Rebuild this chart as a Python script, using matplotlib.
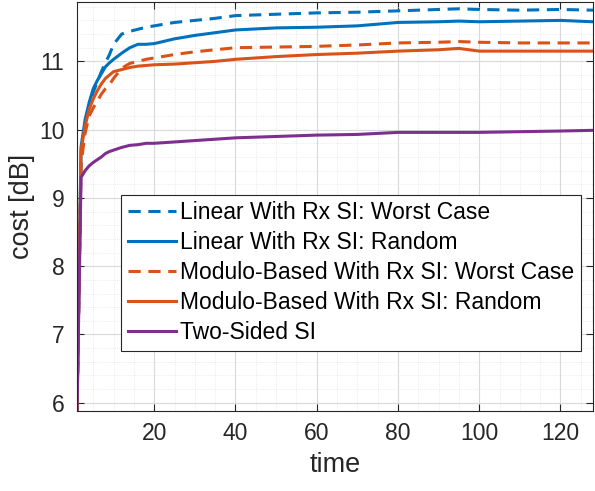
import numpy as np
import matplotlib.pyplot as plt
from matplotlib.ticker import MultipleLocator

plt.rcParams['font.family'] = ['Liberation Sans', 'DejaVu Sans']

# Zeitpunkte und Kurvenwerte
time = [1, 2, 3, 4, 5, 6, 7, 8, 9, 10, 12, 14, 16, 18, 20, 25, 30, 35, 40,
        50, 60, 70, 80, 90, 95, 100, 110, 120, 128]

lin_worst = [5.85, 9.6, 10.05, 10.35, 10.55, 10.7, 10.85, 10.98, 11.1, 11.25,
             11.4, 11.44, 11.47, 11.5, 11.52, 11.57, 11.6, 11.63, 11.67,
             11.69, 11.71, 11.72, 11.74, 11.76, 11.77, 11.76, 11.75, 11.76, 11.75]
lin_rand = [5.85, 9.75, 10.15, 10.4, 10.6, 10.72, 10.82, 10.92, 10.98, 11.03,
            11.12, 11.2, 11.25, 11.25, 11.26, 11.33, 11.38, 11.42, 11.46,
            11.49, 11.5, 11.52, 11.57, 11.58, 11.59, 11.58, 11.59, 11.6, 11.58]
mod_worst = [5.85, 9.5, 9.95, 10.2, 10.32, 10.42, 10.52, 10.6, 10.66, 10.75,
             10.9, 10.97, 11.0, 11.03, 11.05, 11.1, 11.14, 11.17, 11.2,
             11.21, 11.22, 11.24, 11.27, 11.28, 11.29, 11.28, 11.27, 11.27, 11.27]
mod_rand = [5.85, 9.7, 10.05, 10.3, 10.45, 10.57, 10.67, 10.75, 10.8, 10.85,
            10.88, 10.91, 10.93, 10.94, 10.95, 10.96, 10.98, 11.0, 11.03,
            11.07, 11.1, 11.12, 11.15, 11.17, 11.19, 11.15, 11.15, 11.15, 11.15]
two_sided = [5.85, 9.3, 9.4, 9.47, 9.52, 9.56, 9.6, 9.65, 9.68, 9.7,
             9.74, 9.77, 9.78, 9.8, 9.8, 9.82, 9.84, 9.86, 9.88,
             9.9, 9.92, 9.93, 9.96, 9.96, 9.96, 9.96, 9.97, 9.98, 9.99]

labels = ['Linear With Rx SI: Worst Case', 'Linear With Rx SI: Random',
          'Modulo-Based With Rx SI: Worst Case', 'Modulo-Based With Rx SI: Random',
          'Two-Sided SI']

blau = '#0072BD'
orange = '#D95319'
lila = '#7E2F8E'

fig = plt.figure(figsize=(5.95, 4.91), dpi=100)
ax = fig.add_axes([0.1294, 0.163, 0.8672, 0.833])

ax.plot(time, lin_worst, '--', color=blau, lw=2.2, dashes=(4, 2.5), label=labels[0])
ax.plot(time, lin_rand, '-', color=blau, lw=2.2, label=labels[1])
ax.plot(time, mod_worst, '--', color=orange, lw=2.2, dashes=(4, 2.5), label=labels[2])
ax.plot(time, mod_rand, '-', color=orange, lw=2.2, label=labels[3])
ax.plot(time, two_sided, '-', color=lila, lw=2.2, label=labels[4])

ax.set_xlim(1, 128)
ax.set_ylim(5.88, 11.87)
ax.xaxis.set_major_locator(MultipleLocator(20))
ax.xaxis.set_minor_locator(MultipleLocator(5))
ax.yaxis.set_major_locator(MultipleLocator(1))
ax.yaxis.set_minor_locator(MultipleLocator(0.2))

ax.grid(which='major', color='#d9d9d9', lw=0.8)
ax.grid(which='minor', color='#e3e3e3', lw=0.6, ls=':')
ax.set_axisbelow(True)

ax.tick_params(which='both', direction='in', top=True, right=True,
               labelsize=16.5, colors='#262626', length=5)
ax.tick_params(axis='x', pad=8)
ax.tick_params(axis='y', pad=9)
ax.tick_params(which='minor', length=0)
for s in ax.spines.values():
    s.set_color('#262626')
    s.set_linewidth(0.8)

ax.set_xlabel('time', fontsize=19.5, color='#262626', labelpad=5)
ax.set_ylabel('cost [dB]', fontsize=19.5, color='#262626', labelpad=3)

leg = ax.legend(loc='lower left', bbox_to_anchor=(0.085, 0.147), borderaxespad=0,
                fontsize=16.5, fancybox=False, framealpha=1, edgecolor='#262626',
                handlelength=2.1, handletextpad=0.2, labelspacing=0.3,
                borderpad=0.3)
leg.get_frame().set_linewidth(0.8)

fig.savefig('out.png', dpi=100)
